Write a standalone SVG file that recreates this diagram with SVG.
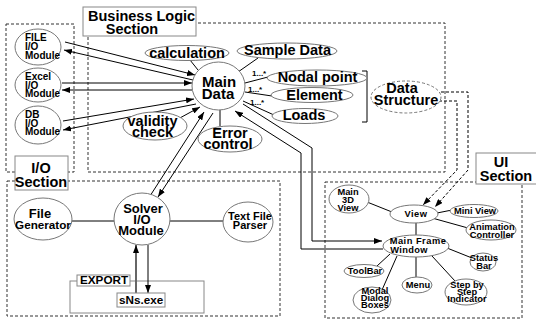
<svg xmlns="http://www.w3.org/2000/svg" width="536" height="320" viewBox="0 0 536 320">
<style>
.sec{fill:none;stroke:#333;stroke-width:1;stroke-dasharray:3,2}
.tbox{fill:#fff;stroke:#888;stroke-width:1}
.nd{fill:#fff;stroke:#777;stroke-width:1}
.dn{fill:#fff;stroke:#777;stroke-width:1;stroke-dasharray:3,2}
.c{fill:none;stroke:#000;stroke-width:1}
.d{fill:none;stroke:#000;stroke-width:1;stroke-dasharray:3,2}
.g{fill:none;stroke:#666;stroke-width:2}
text{font-family:"Liberation Sans",Arial,sans-serif;font-weight:bold;fill:#000}
.f14{font-size:14.5px}
.f15{font-size:15px}
.f13{font-size:13px}
.f12{font-size:11.7px}
.f11{font-size:11px}
.f10{font-size:10px}
.f9{font-size:9.3px}
.f8{font-size:8px}
.m{text-anchor:middle}
</style>
<defs>
<marker id="ar" markerWidth="8" markerHeight="6" refX="8" refY="3" orient="auto" markerUnits="userSpaceOnUse"><path d="M0,0 L8,3 L0,6 z" fill="#000"/></marker>
</defs>
<rect width="536" height="320" fill="#fff"/>
<g id="sections">
<rect class="sec" x="88" y="23" width="357" height="149"/>
<rect class="sec" x="6" y="24" width="68" height="148"/>
<rect class="sec" x="7" y="181" width="273" height="135"/>
<rect class="sec" x="325" y="182" width="197" height="136"/>
<rect class="tbox" x="70" y="281" width="134" height="32"/>
</g>
<g id="connectors">
<line class="c" x1="65" y1="42" x2="195" y2="75" marker-end="url(#ar)"/>
<line class="c" x1="193" y1="80" x2="64" y2="50" marker-end="url(#ar)"/>
<line class="c" x1="62" y1="83" x2="192" y2="83" marker-end="url(#ar)"/>
<line class="c" x1="192" y1="90" x2="62" y2="90" marker-end="url(#ar)"/>
<line class="c" x1="63" y1="121" x2="194" y2="99" marker-end="url(#ar)"/>
<line class="c" x1="196" y1="104" x2="63" y2="130" marker-end="url(#ar)"/>
<line class="c" x1="178" y1="119" x2="200" y2="107" marker-end="url(#ar)"/>
<line class="c" x1="190" y1="60" x2="198" y2="70"/>
<line class="c" x1="238" y1="72" x2="258" y2="58"/>
<line class="c" x1="245" y1="83" x2="268" y2="77"/>
<line class="c" x1="245" y1="92" x2="272" y2="96"/>
<line class="c" x1="243" y1="101" x2="274" y2="115"/>
<line class="c" x1="220" y1="110" x2="220" y2="126"/>
<path class="c" d="M362,71 H367 V122 H362"/>
<line class="c" x1="150" y1="196" x2="204" y2="112" marker-end="url(#ar)"/>
<line class="c" x1="213" y1="113" x2="158" y2="197" marker-end="url(#ar)"/>
<path class="c" d="M383,249 H301 V153 L235,111" marker-end="url(#ar)"/>
<path class="c" d="M243,104 L312,148 V241 H382" marker-end="url(#ar)"/>
<path class="d" d="M439,101 H457 V170 L423,205" marker-end="url(#ar)"/>
<path class="d" d="M441,92 H468 V170 L435,207" marker-end="url(#ar)"/>
<line class="c" x1="72" y1="221" x2="114" y2="221"/>
<line class="c" x1="170" y1="221" x2="223" y2="221"/>
<line class="g" x1="136" y1="293" x2="136" y2="245" marker-end="url(#ar)"/>
<line class="c" x1="148" y1="245" x2="148" y2="293" marker-end="url(#ar)"/>
<line class="c" x1="367" y1="202" x2="392" y2="212"/>
<line class="c" x1="437" y1="213" x2="452" y2="210"/>
<line class="c" x1="432" y1="218" x2="468" y2="228"/>
<line class="c" x1="416" y1="223" x2="416" y2="235"/>
<line class="c" x1="390" y1="254" x2="377" y2="266"/>
<line class="c" x1="397" y1="256" x2="382" y2="290"/>
<line class="c" x1="416" y1="257" x2="416" y2="277"/>
<line class="c" x1="432" y1="256" x2="455" y2="281"/>
<line class="c" x1="447" y1="248" x2="472" y2="258"/>
</g>
<g id="title-business">
<rect class="tbox" x="83" y="7" width="113" height="29"/>
<text class="f14" x="88" y="21">Business Logic</text>
<text class="f14 m" x="132" y="34">Section</text>
</g>
<g id="title-io">
<rect class="tbox" x="15" y="156" width="53" height="34"/>
<text class="f14 m" x="41" y="173">I/O</text>
<text class="f14 m" x="41" y="187">Section</text>
</g>
<g id="title-ui">
<rect class="tbox" x="476" y="153" width="64" height="31"/>
<text class="f14 m" x="501" y="167">UI</text>
<text class="f14 m" x="506" y="181">Section</text>
</g>
<g id="file-io">
<ellipse class="nd" cx="38" cy="47" rx="23" ry="18"/>
<text class="f10" x="25" y="41">FILE</text>
<text class="f10" x="25" y="50">I/O</text>
<text class="f10" x="25" y="59">Module</text>
</g>
<g id="excel-io">
<ellipse class="nd" cx="38" cy="85" rx="23" ry="17"/>
<text class="f10" x="25" y="80">Excel</text>
<text class="f10" x="25" y="89">I/O</text>
<text class="f10" x="25" y="97">Module</text>
</g>
<g id="db-io">
<ellipse class="nd" cx="38" cy="125" rx="23" ry="19"/>
<text class="f10" x="25" y="118">DB</text>
<text class="f10" x="25" y="127">I/O</text>
<text class="f10" x="25" y="135">Module</text>
</g>
<g id="main-data">
<ellipse class="nd" cx="218.5" cy="86" rx="26.5" ry="24"/>
<text class="f15 m" x="219" y="87">Main</text>
<text class="f15 m" x="218" y="99">Data</text>
</g>
<g id="calculation">
<ellipse class="nd" cx="187" cy="53" rx="42" ry="7.5"/>
<text class="f14 m" x="187" y="58">calculation</text>
</g>
<g id="sample-data">
<ellipse class="nd" cx="287" cy="51" rx="50" ry="8"/>
<text class="f14 m" x="287.5" y="55">Sample Data</text>
</g>
<g id="nodal-point">
<ellipse class="nd" cx="317" cy="78" rx="50" ry="8"/>
<text class="f14 m" x="317.5" y="82">Nodal point</text>
<text class="f8" x="252" y="76">1...*</text>
</g>
<g id="element">
<ellipse class="nd" cx="312" cy="95" rx="41" ry="7.5"/>
<text class="f14 m" x="314.5" y="100">Element</text>
<text class="f8" x="248" y="92">1...*</text>
</g>
<g id="loads">
<ellipse class="nd" cx="305" cy="116" rx="33" ry="7.5"/>
<text class="f14 m" x="304" y="120">Loads</text>
<text class="f8" x="250" y="105">1...*</text>
</g>
<g id="validity-check">
<ellipse class="nd" cx="155" cy="126" rx="32" ry="14"/>
<text class="f14 m" x="152.5" y="126">validity</text>
<text class="f14 m" x="152.5" y="137">check</text>
</g>
<g id="error-control">
<ellipse class="nd" cx="230" cy="139" rx="32" ry="13"/>
<text class="f14 m" x="230" y="138">Error</text>
<text class="f14 m" x="228" y="149">control</text>
</g>
<g id="data-structure">
<ellipse class="dn" cx="406" cy="97" rx="35" ry="16"/>
<text class="f14 m" x="402" y="93">Data</text>
<text class="f14 m" x="406" y="105">Structure</text>
</g>
<g id="solver-io">
<ellipse class="nd" cx="142" cy="219" rx="28" ry="26"/>
<text class="f13 m" x="143" y="213">Solver</text>
<text class="f13 m" x="142" y="224">I/O</text>
<text class="f13 m" x="141" y="235">Module</text>
</g>
<g id="file-generator">
<ellipse class="nd" cx="43" cy="219" rx="29" ry="21"/>
<text class="f13 m" x="40" y="218">File</text>
<text class="f12 m" x="43" y="229">Generator</text>
</g>
<g id="text-file-parser">
<ellipse class="nd" cx="248" cy="222" rx="25" ry="20"/>
<text class="f11 m" x="250" y="220">Text File</text>
<text class="f11 m" x="250" y="229">Parser</text>
</g>
<g id="export">
<rect class="tbox" x="77" y="275" width="53" height="11"/>
<text class="f12" x="80" y="284">EXPORT</text>
</g>
<g id="sns-exe">
<rect class="tbox" x="117" y="293" width="48" height="14"/>
<text class="f12" x="119" y="304">sNs.exe</text>
</g>
<g id="main-3d-view">
<ellipse class="nd" cx="349" cy="199" rx="20" ry="14"/>
<text class="f9 m" x="348" y="195">Main</text>
<text class="f9 m" x="348" y="203">3D</text>
<text class="f9 m" x="348" y="211">View</text>
</g>
<g id="view">
<ellipse class="nd" cx="414" cy="214" rx="24" ry="9"/>
<text class="f9 m" x="416" y="217" letter-spacing="0.5">View</text>
</g>
<g id="mini-view">
<ellipse class="nd" cx="474" cy="211" rx="24" ry="6.5"/>
<text class="f9 m" x="475" y="214">Mini View</text>
</g>
<g id="animation-controller">
<ellipse class="nd" cx="491" cy="230" rx="25" ry="10"/>
<text class="f9 m" x="492" y="230">Animation</text>
<text class="f9 m" x="492" y="238">Controller</text>
</g>
<g id="main-frame-window">
<ellipse class="nd" cx="416" cy="246" rx="33" ry="11"/>
<text class="f9 m" x="418" y="244" letter-spacing="0.5">Main Frame</text>
<text class="f9 m" x="409" y="253" letter-spacing="0.3">Window</text>
</g>
<g id="status-bar">
<ellipse class="nd" cx="483" cy="262" rx="13" ry="9"/>
<text class="f9 m" x="484" y="261">Status</text>
<text class="f9 m" x="484" y="269">Bar</text>
</g>
<g id="toolbar">
<ellipse class="nd" cx="364" cy="271" rx="20" ry="6.5"/>
<text class="f9 m" x="365" y="274">ToolBar</text>
</g>
<g id="menu">
<ellipse class="nd" cx="417" cy="285" rx="15" ry="8"/>
<text class="f9 m" x="418" y="288">Menu</text>
</g>
<g id="step-indicator">
<ellipse class="nd" cx="466" cy="292" rx="21" ry="13"/>
<text class="f9 m" x="467" y="288">Step by</text>
<text class="f9 m" x="467" y="295">Step</text>
<text class="f9 m" x="467" y="302">Indicator</text>
</g>
<g id="modal-dialog">
<ellipse class="nd" cx="372" cy="300" rx="19" ry="13"/>
<text class="f9 m" x="375" y="294">Modal</text>
<text class="f9 m" x="375" y="301">Dialog</text>
<text class="f9 m" x="375" y="308">Boxes</text>
</g>
</svg>
